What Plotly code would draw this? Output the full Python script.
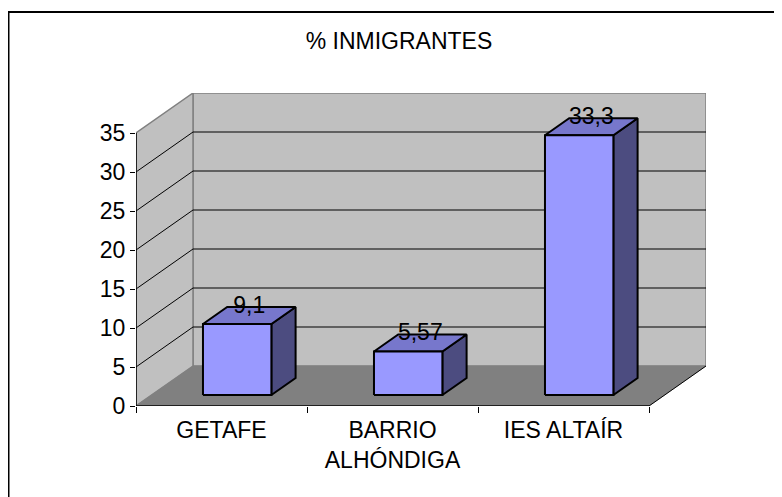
import plotly.graph_objects as go

# ---- data ----
categories = ["GETAFE", "BARRIO<br>ALHÓNDIGA", "IES ALTAÍR"]
values = [9.1, 5.57, 33.3]
y_ticks = [0, 5, 10, 15, 20, 25, 30, 35]
title_text = "% INMIGRANTES"

# ---- 3D geometry (in axis units) ----
Y_MAX = 35
N = len(categories)
DX = 1 / 3          # depth offset in x units
DY = 5.128          # depth offset in y units
F_FRONT = 0.275     # bar front plane (fraction of depth)
F_BACK = 0.70       # bar back plane
BAR_W = 0.40

FONT = "Arial, 'Liberation Sans', sans-serif"
FS = 23
FRONT_C = "#9999FF"
TOP_C = "#7777CC"
SIDE_C = "#4C4C80"
WALL_C = "#C0C0C0"
FLOOR_C = "#808080"

fig = go.Figure()


def poly(xs, ys, fill, line_color, lw):
    fig.add_trace(go.Scatter(
        x=xs + [xs[0]], y=ys + [ys[0]], mode="lines", fill="toself",
        fillcolor=fill, line=dict(color=line_color, width=lw),
        hoverinfo="skip", showlegend=False, cliponaxis=False))


def seg(xs, ys, color, lw):
    fig.add_trace(go.Scatter(
        x=xs, y=ys, mode="lines", line=dict(color=color, width=lw),
        hoverinfo="skip", showlegend=False, cliponaxis=False))


# back wall
poly([DX, N + DX, N + DX, DX], [DY, DY, Y_MAX + DY, Y_MAX + DY], WALL_C, "#808080", 1.5)
# left wall
poly([0, DX, DX, 0], [0, DY, Y_MAX + DY, Y_MAX], WALL_C, "#808080", 1.5)
# floor
poly([0, N, N + DX, DX], [0, 0, DY, DY], FLOOR_C, FLOOR_C, 0.5)

# gridlines
for v in y_ticks[1:-1]:
    seg([0, DX, N + DX], [v, v + DY, v + DY], "#000000", 1)

# axis lines / edges
seg([0, 0], [0, Y_MAX], "#000000", 1.5)
seg([0, N], [0, 0], "#000000", 1.5)
seg([N, N + DX], [0, DY], "#000000", 1)

# bars
for i, v in enumerate(values):
    xc = i + 0.5
    x0 = xc - BAR_W / 2 + F_FRONT * DX
    x1 = xc + BAR_W / 2 + F_FRONT * DX
    yb = F_FRONT * DY
    yt = v + F_FRONT * DY
    ddx = (F_BACK - F_FRONT) * DX
    ddy = (F_BACK - F_FRONT) * DY
    poly([x1, x1 + ddx, x1 + ddx, x1], [yb, yb + ddy, yt + ddy, yt], SIDE_C, "#000000", 2)
    poly([x0, x1, x1 + ddx, x0 + ddx], [yt, yt, yt + ddy, yt + ddy], TOP_C, "#000000", 2)
    poly([x0, x1, x1, x0], [yb, yb, yt, yt], FRONT_C, "#000000", 2)

# data labels
lx = [i + 0.5 + (F_FRONT + F_BACK) / 2 * DX for i in range(N)]
ly = [v + F_BACK * DY for v in values]
fig.add_trace(go.Scatter(
    x=lx, y=ly, mode="text",
    text=[f"{v:g}".replace(".", ",") for v in values],
    textposition="middle center",
    textfont=dict(family=FONT, size=FS, color="#000000"),
    hoverinfo="skip", showlegend=False, cliponaxis=False))

# page has an 8px body margin; figure sized to fit the window
OFF = 8
W, H = 782 - OFF, 497 - OFF
ML, MT = 136 - OFF, 93 - OFF
MR = W - (706 - OFF)
MB = H - (406 - OFF)
pw, ph = W - ML - MR, H - MT - MB

fig.update_layout(
    width=W, height=H, autosize=False,
    margin=dict(l=ML, r=MR, t=MT, b=MB, pad=0),
    paper_bgcolor="white", plot_bgcolor="rgba(0,0,0,0)",
    font=dict(family=FONT, size=FS, color="#000000"),
    title=dict(text=title_text, x=(399 - OFF) / W, y=1 - (41 - OFF) / H,
               xref="container", yref="container", xanchor="center", yanchor="middle",
               font=dict(family=FONT, size=FS, color="#000000")),
    xaxis=dict(range=[0, N + DX], tickvals=[i + 0.5 for i in range(N)], ticktext=categories,
               ticks="", showgrid=False, zeroline=False, showline=False, fixedrange=True,
               minor=dict(tickmode="array", tickvals=list(range(N + 1)), ticks="outside",
                          ticklen=6, tickcolor="#000000", tickwidth=1, showgrid=False),
               tickfont=dict(family=FONT, size=FS), ticklabelstandoff=8),
    yaxis=dict(range=[0, Y_MAX + DY], tickvals=y_ticks, ticks="outside", ticklen=5,
               tickcolor="#000000", tickwidth=1, showgrid=False, zeroline=False,
               showline=False, fixedrange=True, tickfont=dict(family=FONT, size=FS)),
    shapes=[dict(type="rect", xref="paper", yref="paper",
                 x0=(0.5 - ML) / pw, x1=(W + 10 - ML) / pw,
                 y0=-(MB + 20) / ph, y1=(H - MB - (12 - OFF)) / ph,
                 line=dict(color="#000000", width=2), fillcolor="rgba(0,0,0,0)", layer="below")],
)

fig.write_html("out.html")
